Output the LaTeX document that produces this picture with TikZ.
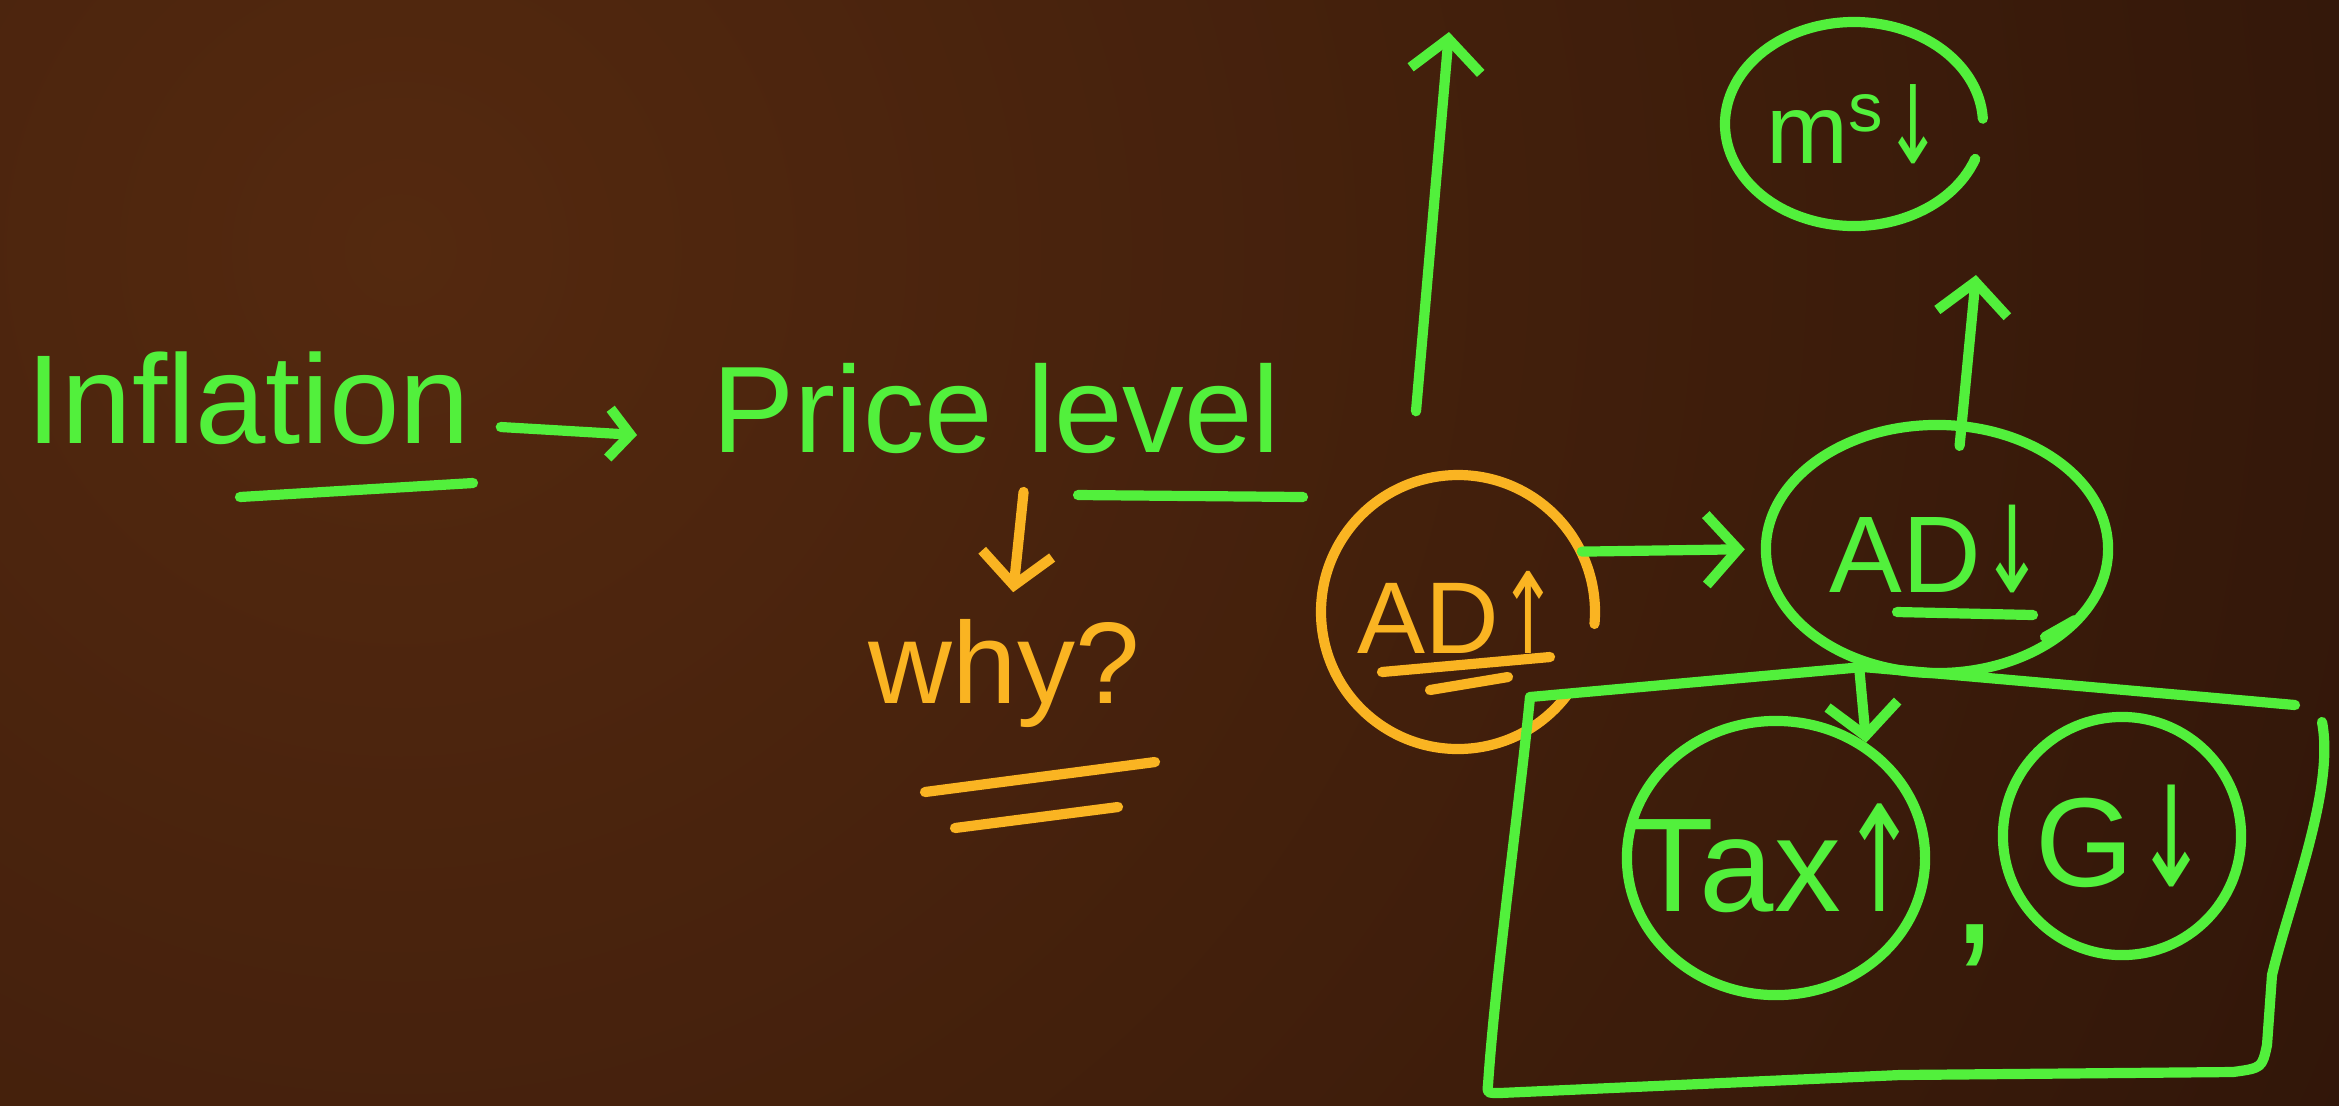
\documentclass[tikz,border=0pt]{standalone}
\usepackage{fontspec}
\setmainfont{Liberation Sans}
\newfontfamily\arrowfont{DejaVu Sans}
\usetikzlibrary{arrows.meta,shapes.geometric}
\definecolor{chalkgreen}{HTML}{52F03C}
\definecolor{chalkorange}{HTML}{FAB422}
\definecolor{bgLight}{HTML}{54290F}
\definecolor{bgDark}{HTML}{190905}
\newcommand{\fsz}[1]{\fontsize{#1}{#1}\selectfont}
\newcommand{\UpA}{{\arrowfont\scalebox{0.7}[1.1]{↑}}}
\newcommand{\DnA}{{\arrowfont\scalebox{0.7}[1.1]{↓}}}
\begin{document}
\begin{tikzpicture}[x=0.01cm,y=-0.01cm,
  gline/.style={draw=chalkgreen,line width=2.9pt,line cap=round,line join=round},
  oline/.style={draw=chalkorange,line width=2.9pt,line cap=round,line join=round},
  garr/.style={gline,-{Straight Barb[length=9pt,width=20pt]}},
  oarr/.style={oline,-{Straight Barb[length=9pt,width=20pt]}},
  gtext/.style={text=chalkgreen,inner sep=0pt},
  otext/.style={text=chalkorange,inner sep=0pt},
  bubble/.style={gline,ellipse,inner sep=0pt}]
\useasboundingbox (0,0) rectangle (2339,1105);
\begin{scope}
  \clip (0,0) rectangle (2339,1105);
  \fill[bgDark] (0,0) rectangle (2339,1105);
  \shade[inner color=bgLight,outer color=bgDark] (400,250) circle (3600);
\end{scope}

% left texts
\node[gtext,anchor=base west,font=\fsz{36pt}] (infl) at (26,443) {Inflation};
\node[gtext,anchor=base west,font=\fsz{35pt}] (price) at (712,452) {Price level};
\node[otext,anchor=base west,font=\fsz{33pt}] (why) at (868,703) {why?};
\draw[gline] (240,497) -- (473,483);
\draw[gline] (1078,495) -- (1303,497);
\draw[oline] (925,792) -- (1155,762);
\draw[oline] (955,828) -- (1118,807);

% bubbles
\node[otext,circle,minimum size=2.74cm,font=\fsz{29pt}] (ADup) at (1458,612) {\makebox[0pt]{AD\UpA}};
\draw[oline] (ADup.center) ++(37:137) arc[start angle=37,end angle=365,radius=137];
\node[bubble,text=chalkgreen,minimum width=3.42cm,minimum height=2.48cm,font=\fsz{31pt}] (ADdn) at (1937,549) {\makebox[0pt]{AD\DnA}};
\node[gtext,ellipse,minimum width=2.58cm,minimum height=2.04cm,font=\fsz{28pt}] (ms) at (1854,124) {\makebox[0pt]{m\textsuperscript{s}\DnA}};
\draw[gline] (ms.center) ++(20:129 and 102) arc[start angle=20,end angle=357,x radius=129,y radius=102];
\node[bubble,text=chalkgreen,minimum width=2.98cm,minimum height=2.74cm,font=\fsz{38pt}] (Tax) at (1776,858) {\makebox[0pt]{Tax\UpA}};
\node[bubble,text=chalkgreen,circle,minimum size=2.38cm,font=\fsz{36pt}] (G) at (2122,836) {\makebox[0pt]{G\DnA}};
\node[gtext,font=\fsz{50pt}] (comma) at (1975,945) {,};

\draw[oline] (1382,672) -- (1550,657);
\draw[oline] (1430,690) -- (1508,677);
\draw[gline] (1897,612) -- (2033,615);
\draw[gline] (2045,637) -- (2075,620);

% box
\draw[gline] (1530,697) -- (1863,667) -- (2295,705);
\draw[gline] (1530,697) .. controls (1520,800) and (1495,980) .. (1488,1085)
  .. controls (1487,1093) .. (1500,1093) -- (1900,1075) -- (2233,1072)
  .. controls (2262,1068) .. (2267,1045) -- (2272,975)
  .. controls (2290,900) and (2335,790) .. (2322,722);

% connectors
\coordinate (upTop) at (1449,32);
\coordinate (msTip) at (1976,275);
\draw[garr,-{Straight Barb[length=6pt,width=14pt]}] ([shift={(30,-16)}]infl.base east) -- ([shift={(-75,-17)}]price.base west);
\draw[oarr] ([shift={(27,38)}]price.south) -- ([shift={(9,-26)}]why.north);
\draw[garr] ([shift={(-42,-63)}]ADup.north) -- (upTop);
\draw[garr,shorten >=0.16cm] (ADup.26) -- (ADdn.west);
\draw[garr] ([shift={(0,25)}]ADdn.80) -- (msTip);
\draw[garr] (ADdn.236) -- (Tax.52);
\end{tikzpicture}
\end{document}
